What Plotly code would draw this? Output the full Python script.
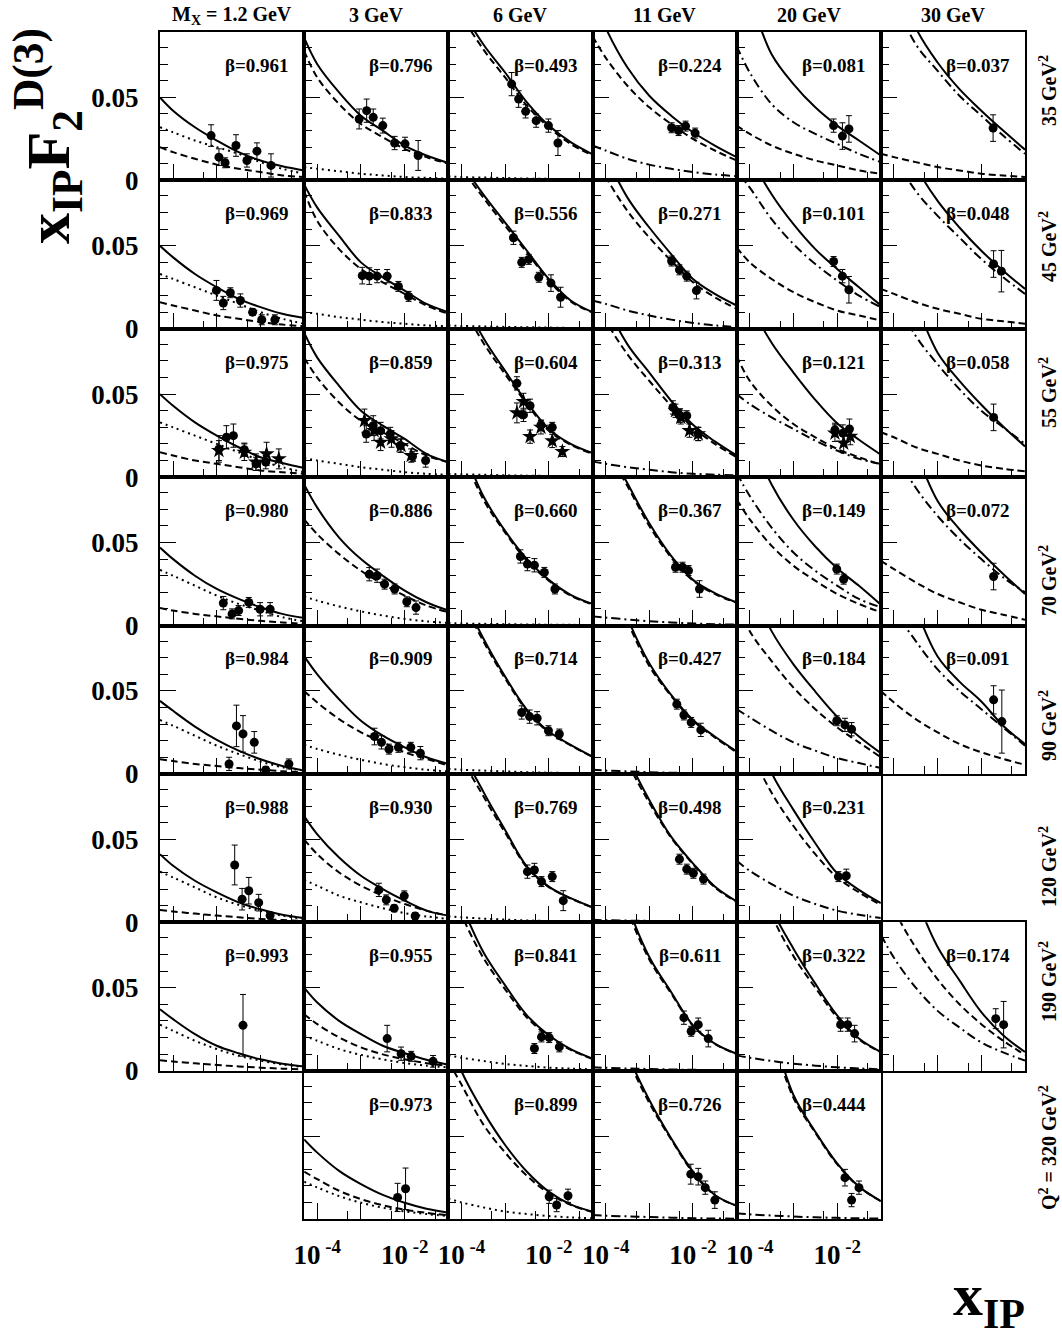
import plotly.graph_objects as go
from plotly.subplots import make_subplots

# ---------------- common axes / labels ----------------
XGRID = [5.0e-5, 1.0e-4, 3.16e-4, 1.0e-3, 3.16e-3, 1.0e-2, 3.16e-2, 1.0e-1]
MX_LABELS = ["M<sub>X</sub> = 1.2 GeV", "3 GeV", "6 GeV", "11 GeV", "20 GeV", "30 GeV"]
Q2_LABELS = ["35 GeV<sup>2</sup>", "45 GeV<sup>2</sup>", "55 GeV<sup>2</sup>", "70 GeV<sup>2</sup>",
             "90 GeV<sup>2</sup>", "120 GeV<sup>2</sup>", "190 GeV<sup>2</sup>",
             "Q<sup>2</sup> = 320 GeV<sup>2</sup>"]
X_TICKS = [1e-4, 1e-3, 1e-2]
X_TICKTEXT = ["10<sup>\u00a0-4</sup>", " ", "10<sup>\u00a0-2</sup>"]
X_MINOR = [5e-4, 5e-3, 5e-2]
Y_TICKS = [0, 0.05]
Y_TICKTEXT = ["0", "0.05"]
Y_MINOR = [0.01, 0.02, 0.03, 0.04, 0.06, 0.07, 0.08]

# ---------------- Q2 = 35 ----------------
BETA_35 = [0.961, 0.796, 0.493, 0.224, 0.081, 0.037]
SOLID_35 = [[0.050, 0.042, 0.032, 0.024, 0.017, 0.012, 0.0085, 0.006],
            [0.086, 0.070, 0.053, 0.039, 0.030, 0.021, 0.015, 0.0105],
            [0.125, 0.104, 0.082, 0.065, 0.047, 0.033, 0.023, 0.0157],
            [0.112, 0.092, 0.068, 0.051, 0.039, 0.029, 0.021, 0.014],
            [0.13, 0.11, 0.076, 0.058, 0.044, 0.033, 0.024, 0.015],
            [0.16, 0.13, 0.092, 0.071, 0.055, 0.042, 0.030, 0.0185]]
DASH_35 = [[0.020, 0.017, 0.013, 0.0095, 0.007, 0.005, 0.003, 0.002],
           [0.078, 0.062, 0.046, 0.034, 0.026, 0.019, 0.014, 0.010],
           [0.12, 0.10, 0.079, 0.062, 0.045, 0.032, 0.022, 0.015],
           [0.087, 0.074, 0.057, 0.044, 0.034, 0.025, 0.018, 0.012],
           [0.033, 0.028, 0.021, 0.016, 0.012, 0.009, 0.006, 0.004],
           [0.016, 0.014, 0.011, 0.008, 0.006, 0.004, 0.003, 0.002]]
DOT_35 = [[0.032, 0.029, 0.024, 0.020, 0.016, 0.011, 0.007, 0.004],
          [0.008, 0.007, 0.0055, 0.004, 0.003, 0.002, 0.0015, 0.001],
          [0.0025, 0.002, 0.0017, 0.0014, 0.0011, 0.0009, 0.0007, 0.0005],
          None, None, None]
DASHDOT_35 = [None, None, None,
              [0.021, 0.018, 0.013, 0.0095, 0.007, 0.005, 0.0035, 0.0025],
              [0.081, 0.065, 0.046, 0.035, 0.028, 0.022, 0.016, 0.011],
              [0.13, 0.11, 0.082, 0.066, 0.051, 0.039, 0.027, 0.016]]
X_35 = [[7.4e-4, 1.12e-3, 1.55e-3, 2.75e-3, 4.9e-3, 8.3e-3, 1.74e-2],
        [9.1e-4, 1.35e-3, 1.91e-3, 3.16e-3, 5.9e-3, 1.02e-2, 2.04e-2],
        [1.41e-3, 2.04e-3, 2.95e-3, 5.13e-3, 9.8e-3, 1.62e-2],
        [3.24e-3, 4.68e-3, 6.76e-3, 1.12e-2],
        [8.3e-3, 1.32e-2, 1.86e-2],
        [1.86e-2]]
Y_35 = [[0.027, 0.014, 0.0106, 0.021, 0.012, 0.0176, 0.009],
        [0.037, 0.042, 0.038, 0.033, 0.0225, 0.022, 0.015],
        [0.058, 0.049, 0.0416, 0.036, 0.033, 0.0225],
        [0.0317, 0.030, 0.0327, 0.0285],
        [0.033, 0.0267, 0.031],
        [0.0315]]
E_35 = [[0.0065, 0.005, 0.003, 0.0065, 0.004, 0.005, 0.007],
        [0.006, 0.007, 0.005, 0.0045, 0.004, 0.004, 0.009],
        [0.007, 0.005, 0.004, 0.004, 0.004, 0.0075],
        [0.003, 0.003, 0.003, 0.003],
        [0.004, 0.008, 0.008],
        [0.008]]

# ---------------- Q2 = 45 ----------------
BETA_45 = [0.969, 0.833, 0.556, 0.271, 0.101, 0.048]
SOLID_45 = [[0.050, 0.043, 0.033, 0.025, 0.018, 0.013, 0.009, 0.0065],
            [0.087, 0.073, 0.056, 0.040, 0.031, 0.023, 0.015, 0.010],
            [0.115, 0.10, 0.081, 0.064, 0.047, 0.030, 0.017, 0.010],
            [0.125, 0.105, 0.079, 0.061, 0.045, 0.030, 0.021, 0.014],
            [0.13, 0.105, 0.081, 0.063, 0.048, 0.036, 0.025, 0.014],
            [0.16, 0.13, 0.098, 0.077, 0.061, 0.047, 0.035, 0.024]]
DASH_45 = [[0.016, 0.014, 0.011, 0.008, 0.006, 0.004, 0.0025, 0.0015],
           [0.083, 0.065, 0.048, 0.036, 0.028, 0.021, 0.014, 0.009],
           [0.11, 0.097, 0.079, 0.062, 0.046, 0.029, 0.0165, 0.0097],
           [0.11, 0.092, 0.071, 0.055, 0.041, 0.028, 0.019, 0.012],
           [0.049, 0.040, 0.030, 0.022, 0.016, 0.011, 0.008, 0.005],
           [0.024, 0.021, 0.016, 0.012, 0.009, 0.006, 0.0045, 0.003]]
DOT_45 = [[0.033, 0.030, 0.025, 0.020, 0.015, 0.010, 0.006, 0.003],
          [0.010, 0.009, 0.007, 0.0055, 0.004, 0.003, 0.002, 0.0015],
          [0.002, 0.0017, 0.0014, 0.0011, 0.0009, 0.0007, 0.0005, 0.0004],
          None, None, None]
DASHDOT_45 = [None, None, None,
              [0.017, 0.015, 0.011, 0.008, 0.0055, 0.0035, 0.002, 0.001],
              [0.095, 0.085, 0.066, 0.051, 0.039, 0.029, 0.020, 0.013],
              [0.13, 0.105, 0.083, 0.068, 0.055, 0.042, 0.031, 0.021]]
X_45 = [[9.8e-4, 1.41e-3, 2.04e-3, 3.47e-3, 6.6e-3, 1.07e-2, 2.14e-2],
        [1.07e-3, 1.55e-3, 2.34e-3, 3.98e-3, 7.2e-3, 1.23e-2],
        [1.55e-3, 2.40e-3, 3.47e-3, 5.9e-3, 1.12e-2, 1.86e-2],
        [3.24e-3, 4.9e-3, 7.2e-3, 1.20e-2],
        [8.3e-3, 1.32e-2, 1.86e-2],
        [1.91e-2, 2.88e-2]]
Y_45 = [[0.0231, 0.0155, 0.0217, 0.017, 0.010, 0.0054, 0.0054],
        [0.032, 0.0317, 0.0317, 0.0317, 0.0255, 0.0195],
        [0.0548, 0.040, 0.0418, 0.031, 0.0275, 0.019],
        [0.0408, 0.0355, 0.0317, 0.023],
        [0.0405, 0.0317, 0.0235],
        [0.039, 0.0347]]
E_45 = [[0.006, 0.004, 0.003, 0.004, 0.002, 0.003, 0.003],
        [0.005, 0.005, 0.004, 0.004, 0.003, 0.003],
        [0.004, 0.003, 0.003, 0.003, 0.005, 0.006],
        [0.003, 0.003, 0.003, 0.005],
        [0.003, 0.004, 0.008],
        [0.008, 0.0125]]

# ---------------- Q2 = 55 (circles + stars) ----------------
BETA_55 = [0.975, 0.859, 0.604, 0.313, 0.121, 0.058]
SOLID_55 = [[0.050, 0.043, 0.033, 0.025, 0.018, 0.012, 0.0085, 0.0055],
            [0.087, 0.072, 0.055, 0.040, 0.031, 0.023, 0.014, 0.009],
            [0.13, 0.11, 0.084, 0.064, 0.045, 0.029, 0.020, 0.0145],
            [0.125, 0.105, 0.080, 0.063, 0.046, 0.0315, 0.0215, 0.013],
            [0.13, 0.105, 0.081, 0.063, 0.0466, 0.0325, 0.0225, 0.0135],
            [0.17, 0.14, 0.105, 0.075, 0.058, 0.0436, 0.0305, 0.0185]]
DASH_55 = [[0.015, 0.013, 0.010, 0.008, 0.006, 0.004, 0.003, 0.002],
           [0.072, 0.060, 0.045, 0.034, 0.027, 0.020, 0.013, 0.009],
           [0.125, 0.105, 0.081, 0.062, 0.044, 0.028, 0.0195, 0.014],
           [0.115, 0.095, 0.074, 0.058, 0.043, 0.030, 0.020, 0.012],
           [0.073, 0.058, 0.043, 0.032, 0.024, 0.017, 0.012, 0.0075],
           [0.027, 0.024, 0.018, 0.014, 0.010, 0.007, 0.005, 0.0035]]
DOT_55 = [[0.033, 0.030, 0.025, 0.020, 0.015, 0.010, 0.006, 0.003],
          [0.0115, 0.010, 0.008, 0.006, 0.0045, 0.003, 0.002, 0.0015],
          [0.002, 0.0017, 0.0014, 0.0011, 0.0009, 0.0007, 0.0005, 0.0004],
          None, None, None]
DASHDOT_55 = [None, None, None,
              [0.0095, 0.008, 0.006, 0.0045, 0.003, 0.002, 0.0015, 0.001],
              [0.050, 0.044, 0.036, 0.029, 0.022, 0.016, 0.011, 0.008],
              [0.135, 0.11, 0.085, 0.068, 0.053, 0.040, 0.030, 0.020]]
X_55 = [[1.12e-3, 1.66e-3, 2.40e-3, 4.27e-3, 7.9e-3, 1.32e-2],
        [1.32e-3, 1.91e-3, 2.82e-3, 4.68e-3, 7.9e-3, 1.51e-2, 3.02e-2],
        [1.86e-3, 2.63e-3, 3.72e-3, 6.6e-3, 1.20e-2],
        [3.47e-3, 5.0e-3, 7.2e-3, 1.32e-2],
        [8.9e-3, 1.35e-2, 1.91e-2],
        [1.91e-2]]
Y_55 = [[0.017, 0.024, 0.025, 0.0165, 0.008, 0.009],
        [0.026, 0.031, 0.028, 0.026, 0.019, 0.0125, 0.010],
        [0.0565, 0.0375, 0.043, 0.0314, 0.030],
        [0.042, 0.037, 0.037, 0.026],
        [0.0285, 0.0265, 0.029],
        [0.036]]
E_55 = [[0.008, 0.007, 0.007, 0.004, 0.004, 0.004],
        [0.005, 0.006, 0.005, 0.004, 0.004, 0.003, 0.004],
        [0.004, 0.004, 0.004, 0.003, 0.003],
        [0.004, 0.004, 0.003, 0.004],
        [0.004, 0.005, 0.006],
        [0.008]]
SX_55 = [[1.12e-3, 4.27e-3, 7.9e-3, 1.38e-2, 2.63e-2],
         [1.20e-3, 2.0e-3, 2.82e-3, 5.0e-3, 8.3e-3, 1.41e-2],
         [1.86e-3, 2.63e-3, 3.72e-3, 6.6e-3, 1.20e-2, 2.04e-2],
         [3.98e-3, 5.25e-3, 8.3e-3, 1.32e-2],
         [8.9e-3, 1.41e-2, 2.0e-2],
         []]
SY_55 = [[0.016, 0.015, 0.009, 0.014, 0.011],
         [0.034, 0.028, 0.021, 0.023, 0.019, 0.013],
         [0.0387, 0.0455, 0.0244, 0.030, 0.0218, 0.0154],
         [0.040, 0.036, 0.028, 0.026],
         [0.0265, 0.0205, 0.0245],
         []]
SE_55 = [[0.006, 0.005, 0.005, 0.007, 0.006],
         [0.007, 0.006, 0.005, 0.005, 0.004, 0.004],
         [0.006, 0.005, 0.004, 0.004, 0.004, 0.003],
         [0.004, 0.004, 0.004, 0.004],
         [0.005, 0.006, 0.005],
         []]

# ---------------- Q2 = 70 ----------------
BETA_70 = [0.980, 0.886, 0.660, 0.367, 0.149, 0.072]
SOLID_70 = [[0.047, 0.040, 0.030, 0.022, 0.016, 0.011, 0.007, 0.0045],
            [0.085, 0.071, 0.053, 0.040, 0.030, 0.021, 0.014, 0.009],
            [0.135, 0.11, 0.078, 0.057, 0.040, 0.0275, 0.0185, 0.013],
            [0.13, 0.11, 0.0857, 0.0616, 0.042, 0.0275, 0.0195, 0.0139],
            [0.14, 0.115, 0.085, 0.0637, 0.0476, 0.0345, 0.0239, 0.0125],
            [0.17, 0.14, 0.105, 0.075, 0.058, 0.044, 0.031, 0.019]]
DASH_70 = [[0.0105, 0.009, 0.007, 0.0055, 0.004, 0.0028, 0.0018, 0.001],
           [0.064, 0.055, 0.043, 0.033, 0.025, 0.018, 0.012, 0.008],
           [0.13, 0.106, 0.076, 0.056, 0.039, 0.027, 0.018, 0.0127],
           [0.127, 0.107, 0.084, 0.060, 0.041, 0.027, 0.019, 0.0136],
           [0.076, 0.064, 0.048, 0.036, 0.027, 0.019, 0.013, 0.008],
           [0.039, 0.034, 0.026, 0.019, 0.014, 0.0095, 0.0065, 0.0035]]
DOT_70 = [[0.0335, 0.030, 0.024, 0.018, 0.013, 0.009, 0.005, 0.0025],
          [0.0175, 0.015, 0.0115, 0.0085, 0.006, 0.004, 0.0025, 0.0015],
          [0.0015, 0.0012, 0.001, 0.0008, 0.0006, 0.0005, 0.0004, 0.0003],
          None, None, None]
DASHDOT_70 = [None, None, None,
              [0.0055, 0.0048, 0.0036, 0.0026, 0.0018, 0.0012, 0.0008, 0.0005],
              [0.092, 0.078, 0.059, 0.044, 0.033, 0.024, 0.016, 0.011],
              [0.125, 0.105, 0.083, 0.066, 0.052, 0.040, 0.029, 0.020]]
X_70 = [[1.41e-3, 2.24e-3, 3.16e-3, 5.4e-3, 9.8e-3, 1.66e-2],
        [1.55e-3, 2.34e-3, 3.47e-3, 5.9e-3, 1.12e-2, 1.82e-2],
        [2.24e-3, 3.24e-3, 4.68e-3, 7.9e-3, 1.38e-2],
        [3.98e-3, 5.75e-3, 7.9e-3, 1.41e-2],
        [9.8e-3, 1.41e-2],
        [1.91e-2]]
Y_70 = [[0.0135, 0.007, 0.009, 0.0139, 0.0098, 0.0098],
        [0.0309, 0.030, 0.0249, 0.022, 0.0143, 0.0108],
        [0.0416, 0.037, 0.0363, 0.032, 0.022],
        [0.0351, 0.0351, 0.0331, 0.022],
        [0.034, 0.0279],
        [0.0295]]
E_70 = [[0.004, 0.003, 0.003, 0.003, 0.004, 0.004],
        [0.004, 0.004, 0.003, 0.003, 0.003, 0.004],
        [0.004, 0.004, 0.004, 0.003, 0.003],
        [0.003, 0.003, 0.003, 0.005],
        [0.003, 0.003],
        [0.008]]

# ---------------- Q2 = 90 ----------------
BETA_90 = [0.984, 0.909, 0.714, 0.427, 0.184, 0.091]
SOLID_90 = [[0.044, 0.038, 0.0285, 0.0205, 0.014, 0.0088, 0.0048, 0.002],
            [0.071, 0.060, 0.045, 0.032, 0.023, 0.016, 0.010, 0.006],
            [0.14, 0.11, 0.0817, 0.0586, 0.0386, 0.0255, 0.0175, 0.0104],
            [0.16, 0.13, 0.094, 0.0667, 0.0476, 0.0325, 0.0225, 0.0135],
            [0.14, 0.115, 0.086, 0.066, 0.0496, 0.0345, 0.0225, 0.0125],
            [0.17, 0.14, 0.10, 0.0707, 0.0556, 0.0436, 0.029, 0.018]]
DASH_90 = [[0.0088, 0.0077, 0.006, 0.0047, 0.0035, 0.0025, 0.0016, 0.001],
           [0.050, 0.043, 0.033, 0.025, 0.019, 0.013, 0.009, 0.005],
           [0.135, 0.107, 0.080, 0.0575, 0.038, 0.025, 0.0172, 0.0102],
           [0.155, 0.126, 0.092, 0.065, 0.047, 0.032, 0.022, 0.013],
           [0.105, 0.086, 0.068, 0.052, 0.039, 0.028, 0.019, 0.010],
           [0.050, 0.043, 0.033, 0.025, 0.018, 0.013, 0.009, 0.0055]]
DOT_90 = [[0.0325, 0.029, 0.023, 0.017, 0.012, 0.0075, 0.004, 0.002],
          [0.0175, 0.015, 0.0115, 0.0085, 0.006, 0.004, 0.0025, 0.0015],
          [0.003, 0.0025, 0.002, 0.0015, 0.001, 0.0007, 0.0005, 0.0003],
          None, None, None]
DASHDOT_90 = [None, None, None,
              [0.0025, 0.002, 0.0015, 0.001, 0.0007, 0.0005, 0.0003, 0.0002],
              [0.039, 0.034, 0.026, 0.019, 0.014, 0.0095, 0.0065, 0.0035],
              [0.125, 0.10, 0.080, 0.063, 0.050, 0.039, 0.028, 0.017]]
X_90 = [[1.91e-3, 2.82e-3, 3.98e-3, 7.2e-3, 1.32e-2, 4.47e-2],
        [2.04e-3, 2.95e-3, 4.37e-3, 7.2e-3, 1.38e-2, 2.29e-2],
        [2.40e-3, 3.63e-3, 5.4e-3, 9.8e-3, 1.74e-2],
        [4.27e-3, 6.2e-3, 9.1e-3, 1.51e-2],
        [9.8e-3, 1.51e-2, 2.14e-2],
        [1.91e-2, 2.95e-2]]
Y_90 = [[0.006, 0.0289, 0.0241, 0.019, 0.0024, 0.006],
        [0.0225, 0.019, 0.0149, 0.016, 0.016, 0.0125],
        [0.037, 0.0345, 0.0335, 0.026, 0.024],
        [0.042, 0.0355, 0.031, 0.0265],
        [0.032, 0.0295, 0.0269],
        [0.0446, 0.0315]]
E_90 = [[0.004, 0.0125, 0.011, 0.0065, 0.002, 0.003],
        [0.005, 0.004, 0.003, 0.003, 0.003, 0.004],
        [0.004, 0.004, 0.004, 0.003, 0.003],
        [0.003, 0.003, 0.003, 0.004],
        [0.003, 0.004, 0.004],
        [0.0085, 0.019]]

# ---------------- Q2 = 120 ----------------
BETA_120 = [0.988, 0.930, 0.769, 0.498, 0.231, None]
SOLID_120 = [[0.041, 0.034, 0.025, 0.018, 0.012, 0.0078, 0.0045, 0.0025],
             [0.064, 0.053, 0.039, 0.028, 0.020, 0.013, 0.007, 0.004],
             [0.135, 0.105, 0.0787, 0.0556, 0.0335, 0.0215, 0.0145, 0.009],
             [0.17, 0.14, 0.10, 0.0737, 0.0516, 0.0355, 0.0215, 0.0125],
             [0.16, 0.125, 0.090, 0.0677, 0.0476, 0.0295, 0.0195, 0.0115],
             None]
DASH_120 = [[0.0074, 0.0065, 0.0052, 0.004, 0.003, 0.002, 0.0013, 0.0008],
            [0.050, 0.041, 0.030, 0.022, 0.016, 0.011, 0.007, 0.004],
            [0.125, 0.10, 0.076, 0.054, 0.033, 0.0212, 0.0143, 0.0089],
            [0.165, 0.135, 0.097, 0.072, 0.051, 0.035, 0.021, 0.0122],
            [0.13, 0.105, 0.078, 0.058, 0.041, 0.027, 0.018, 0.0105],
            None]
DOT_120 = [[0.0305, 0.027, 0.021, 0.015, 0.0105, 0.0068, 0.004, 0.002],
           [0.0255, 0.022, 0.016, 0.012, 0.0085, 0.0055, 0.0035, 0.002],
           [0.0035, 0.003, 0.0022, 0.0016, 0.0011, 0.0007, 0.0004, 0.0002],
           None, None, None]
DASHDOT_120 = [None, None, None,
               [0.0015, 0.0012, 0.001, 0.0008, 0.0006, 0.0004, 0.0003, 0.0002],
               [0.037, 0.031, 0.023, 0.016, 0.011, 0.007, 0.0045, 0.0025],
               None]
X_120 = [[2.57e-3, 3.80e-3, 5.4e-3, 9.1e-3, 1.66e-2],
         [2.57e-3, 3.80e-3, 5.75e-3, 9.8e-3, 1.74e-2],
         [3.24e-3, 4.68e-3, 6.8e-3, 1.20e-2, 2.14e-2],
         [4.9e-3, 7.2e-3, 1.02e-2, 1.74e-2],
         [1.07e-2, 1.62e-2],
         []]
Y_120 = [[0.0345, 0.0139, 0.019, 0.0118, 0.004],
         [0.0195, 0.0135, 0.0084, 0.0159, 0.0038],
         [0.0305, 0.0315, 0.0245, 0.0275, 0.013],
         [0.038, 0.032, 0.0295, 0.026],
         [0.0275, 0.028],
         []]
E_120 = [[0.012, 0.0065, 0.008, 0.005, 0.002],
         [0.004, 0.003, 0.002, 0.003, 0.002],
         [0.004, 0.004, 0.003, 0.003, 0.006],
         [0.003, 0.003, 0.003, 0.003],
         [0.003, 0.004],
         []]

# ---------------- Q2 = 190 ----------------
BETA_190 = [0.993, 0.955, 0.841, 0.611, 0.322, 0.174]
SOLID_190 = [[0.037, 0.031, 0.022, 0.015, 0.0105, 0.0068, 0.0042, 0.0025],
             [0.050, 0.041, 0.030, 0.022, 0.015, 0.0105, 0.0065, 0.0035],
             [0.12, 0.10, 0.0715, 0.0514, 0.0333, 0.0213, 0.0129, 0.0072],
             [0.18, 0.145, 0.10, 0.0685, 0.0474, 0.0273, 0.0163, 0.0102],
             [0.18, 0.14, 0.098, 0.0735, 0.0524, 0.0333, 0.0193, 0.0112],
             [0.18, 0.145, 0.105, 0.0745, 0.0544, 0.0353, 0.0213, 0.0112]]
DASH_190 = [[0.0062, 0.0055, 0.0044, 0.0034, 0.0025, 0.0018, 0.0012, 0.0008],
            [0.034, 0.028, 0.020, 0.014, 0.0098, 0.0068, 0.0045, 0.0028],
            [0.115, 0.094, 0.068, 0.049, 0.032, 0.0205, 0.0125, 0.007],
            [0.175, 0.14, 0.097, 0.067, 0.0465, 0.027, 0.016, 0.0100],
            [0.17, 0.133, 0.094, 0.069, 0.050, 0.032, 0.0188, 0.011],
            [0.115, 0.097, 0.074, 0.055, 0.040, 0.028, 0.018, 0.0095]]
DOT_190 = [[0.0277, 0.024, 0.018, 0.013, 0.009, 0.006, 0.0037, 0.0022],
           [0.021, 0.018, 0.013, 0.0095, 0.0068, 0.0046, 0.003, 0.0019],
           [0.0092, 0.0078, 0.0058, 0.004, 0.0028, 0.0018, 0.0012, 0.0008],
           None, None, None]
DASHDOT_190 = [None, None, None,
               [0.002, 0.0017, 0.0013, 0.001, 0.0007, 0.0005, 0.0003, 0.0002],
               [0.0092, 0.0078, 0.0058, 0.0042, 0.003, 0.002, 0.0013, 0.0008],
               [0.082, 0.068, 0.050, 0.036, 0.026, 0.017, 0.011, 0.006]]
X_190 = [[3.98e-3],
         [3.98e-3, 8.3e-3, 1.41e-2, 4.47e-2],
         [4.68e-3, 6.8e-3, 1.02e-2, 1.74e-2],
         [6.2e-3, 9.1e-3, 1.32e-2, 2.24e-2],
         [1.20e-2, 1.74e-2, 2.51e-2],
         [2.14e-2, 3.24e-2]]
Y_190 = [[0.0273],
         [0.0193, 0.0102, 0.0086, 0.0056],
         [0.0133, 0.0203, 0.0199, 0.0143],
         [0.0319, 0.0237, 0.0277, 0.0193],
         [0.0277, 0.0277, 0.0223],
         [0.0313, 0.0277]]
E_190 = [[0.0186],
         [0.008, 0.004, 0.003, 0.0035],
         [0.003, 0.003, 0.003, 0.003],
         [0.004, 0.003, 0.004, 0.005],
         [0.004, 0.004, 0.005],
         [0.006, 0.014]]

# ---------------- Q2 = 320 ----------------
BETA_320 = [None, 0.973, 0.899, 0.726, 0.444, None]
SOLID_320 = [None,
             [0.048, 0.040, 0.029, 0.021, 0.0145, 0.0098, 0.0062, 0.0038],
             [0.11, 0.089, 0.0647, 0.0446, 0.0285, 0.0165, 0.0088, 0.0044],
             [0.18, 0.145, 0.10, 0.0717, 0.0486, 0.0285, 0.0145, 0.008],
             [0.2, 0.16, 0.115, 0.0747, 0.0526, 0.0335, 0.0195, 0.0108],
             None]
DASH_320 = [None,
            [0.0285, 0.024, 0.017, 0.012, 0.0083, 0.0056, 0.0037, 0.0022],
            [0.095, 0.081, 0.057, 0.040, 0.026, 0.0155, 0.0085, 0.0042],
            [0.175, 0.14, 0.098, 0.070, 0.048, 0.028, 0.0143, 0.0079],
            [0.195, 0.155, 0.112, 0.073, 0.052, 0.033, 0.0193, 0.0107],
            None]
DOT_320 = [None,
           [0.0225, 0.019, 0.0138, 0.0098, 0.0068, 0.0046, 0.003, 0.0018],
           [0.0124, 0.010, 0.007, 0.0045, 0.003, 0.0018, 0.001, 0.0005],
           None, None, None]
DASHDOT_320 = [None, None, None,
               [0.0024, 0.002, 0.0016, 0.0012, 0.0008, 0.0005, 0.0003, 0.0002],
               [0.0034, 0.0028, 0.0021, 0.0015, 0.001, 0.0007, 0.0004, 0.0003],
               None]
X_320 = [[], [6.9e-3, 1.05e-2], [1.02e-2, 1.51e-2, 2.75e-2],
         [8.9e-3, 1.32e-2, 1.91e-2, 3.16e-2], [1.51e-2, 2.14e-2, 3.16e-2], []]
Y_320 = [[], [0.013, 0.0182], [0.0134, 0.0084, 0.014],
         [0.027, 0.0255, 0.0189, 0.0114], [0.0249, 0.0114, 0.0189], []]
E_320 = [[], [0.0085, 0.0125], [0.004, 0.004, 0.004],
         [0.006, 0.005, 0.004, 0.005], [0.005, 0.004, 0.004], []]

ROWS = [
    (BETA_35, SOLID_35, DASH_35, DOT_35, DASHDOT_35, X_35, Y_35, E_35),
    (BETA_45, SOLID_45, DASH_45, DOT_45, DASHDOT_45, X_45, Y_45, E_45),
    (BETA_55, SOLID_55, DASH_55, DOT_55, DASHDOT_55, X_55, Y_55, E_55),
    (BETA_70, SOLID_70, DASH_70, DOT_70, DASHDOT_70, X_70, Y_70, E_70),
    (BETA_90, SOLID_90, DASH_90, DOT_90, DASHDOT_90, X_90, Y_90, E_90),
    (BETA_120, SOLID_120, DASH_120, DOT_120, DASHDOT_120, X_120, Y_120, E_120),
    (BETA_190, SOLID_190, DASH_190, DOT_190, DASHDOT_190, X_190, Y_190, E_190),
    (BETA_320, SOLID_320, DASH_320, DOT_320, DASHDOT_320, X_320, Y_320, E_320),
]
STAR_ROW = 2  # the 55 GeV^2 row carries the second data set

W, H = 1062, 1336
PX0, PX1, PY0, PY1 = 160, 1025, 32, 1219          # plot block in page pixels
ML, MT, MR, MB = PX0, PY0, W - PX1, H - PY1
SERIF = "Liberation Serif"


def paper_x(px):
    return (px - PX0) / (PX1 - PX0)


def paper_y(py):
    return (PY1 - py) / (PY1 - PY0)


fig = make_subplots(rows=8, cols=6, horizontal_spacing=0, vertical_spacing=0)

LINE_STYLES = [(1, "solid"), (2, "7px,4px"), (3, "2px,4px"), (4, "9px,4px,2px,4px")]

for r, row in enumerate(ROWS):
    beta = row[0]
    for c in range(6):
        for k, dash in LINE_STYLES:
            vals = row[k][c]
            if vals is None:
                continue
            fig.add_trace(go.Scatter(x=XGRID, y=vals, mode="lines",
                                     line=dict(color="black", width=2, dash=dash,
                                               shape="spline", smoothing=1),
                                     hoverinfo="skip", showlegend=False),
                          row=r + 1, col=c + 1)
        if r == STAR_ROW and SX_55[c]:
            fig.add_trace(go.Scatter(x=SX_55[c], y=SY_55[c], mode="markers",
                                     marker=dict(symbol="star", size=12, color="black"),
                                     error_y=dict(type="data", array=SE_55[c], color="black",
                                                  thickness=1, width=3),
                                     hoverinfo="skip", showlegend=False),
                          row=r + 1, col=c + 1)
        if row[5][c]:
            fig.add_trace(go.Scatter(x=row[5][c], y=row[6][c], mode="markers",
                                     marker=dict(symbol="circle", size=9, color="black"),
                                     error_y=dict(type="data", array=row[7][c], color="black",
                                                  thickness=1, width=3),
                                     hoverinfo="skip", showlegend=False),
                          row=r + 1, col=c + 1)
        if beta[c] is not None:
            n = r * 6 + c + 1
            sfx = "" if n == 1 else str(n)
            fig.add_annotation(text=f"\u03b2={beta[c]:.3f}", xref=f"x{sfx} domain",
                               yref=f"y{sfx} domain", x=0.91, y=0.775,
                               xanchor="right", yanchor="middle", showarrow=False,
                               font=dict(family=SERIF, size=19, color="black", weight="bold"))

tickfont = dict(family=SERIF, size=27, color="black", weight="bold")
fig.update_xaxes(type="log", range=[-4.3, -1], showline=True, linecolor="black", linewidth=2,
                 mirror=True, showgrid=False, zeroline=False, ticks="inside", ticklen=16,
                 tickwidth=1, tickcolor="black", tickmode="array", tickvals=X_TICKS,
                 ticktext=X_TICKTEXT, showticklabels=False, tickfont=tickfont,
                 minor=dict(ticks="inside", ticklen=8, tickwidth=1, tickcolor="black",
                            tickmode="array", tickvals=X_MINOR, showgrid=False))
fig.update_xaxes(showticklabels=True, ticklabelstandoff=11, row=8)
fig.update_yaxes(range=[0, 0.0894], showline=True, linecolor="black", linewidth=2,
                 mirror=True, showgrid=False, zeroline=False, ticks="inside", ticklen=16,
                 tickwidth=1, tickcolor="black", tickmode="array", tickvals=Y_TICKS,
                 ticktext=Y_TICKTEXT, showticklabels=False, tickfont=tickfont,
                 minor=dict(ticks="inside", ticklen=8, tickwidth=1, tickcolor="black",
                            tickmode="array", tickvals=Y_MINOR, showgrid=False))
fig.update_yaxes(showticklabels=True, ticklabelstandoff=14, col=1)

# column titles
for c, lab in enumerate(MX_LABELS):
    fig.add_annotation(text=lab, xref="paper", yref="paper",
                       x=(c + 0.5) / 6, y=paper_y(15),
                       xanchor="center", yanchor="middle", showarrow=False,
                       font=dict(family=SERIF, size=20, color="black", weight="bold"))

# row labels (right side)
ROW_LABEL_Y = [91, 247, 393, 581, 726, 867, 982, 1148]
for r, lab in enumerate(Q2_LABELS):
    fig.add_annotation(text=lab, xref="paper", yref="paper", x=paper_x(1048),
                       y=paper_y(ROW_LABEL_Y[r]),
                       xanchor="center", yanchor="middle", textangle=-90, showarrow=False,
                       font=dict(family=SERIF, size=20, color="black", weight="bold"))

# axis titles
fig.add_annotation(text="x<sub>IP</sub>F<sub>2</sub><sup>D(3)</sup>", xref="paper", yref="paper",
                   x=paper_x(47), y=paper_y(136), xanchor="center", yanchor="middle",
                   textangle=-90, showarrow=False,
                   font=dict(family=SERIF, size=62, color="black", weight="bold"))
fig.add_annotation(text="x<sub>IP</sub>", xref="paper", yref="paper",
                   x=paper_x(989), y=paper_y(1299), xanchor="center", yanchor="middle",
                   showarrow=False, font=dict(family=SERIF, size=60, color="black", weight="bold"))

fig.update_layout(width=W, height=H, margin=dict(l=ML, r=MR, t=MT, b=MB),
                  paper_bgcolor="white", plot_bgcolor="white", showlegend=False)

# remove the default page margin so the figure sits at the window's top-left corner
fig.write_html("out.html", config={"displayModeBar": False},
               post_script="document.body.style.margin='0';document.body.style.padding='0';"
                           "document.body.style.overflow='hidden';")
